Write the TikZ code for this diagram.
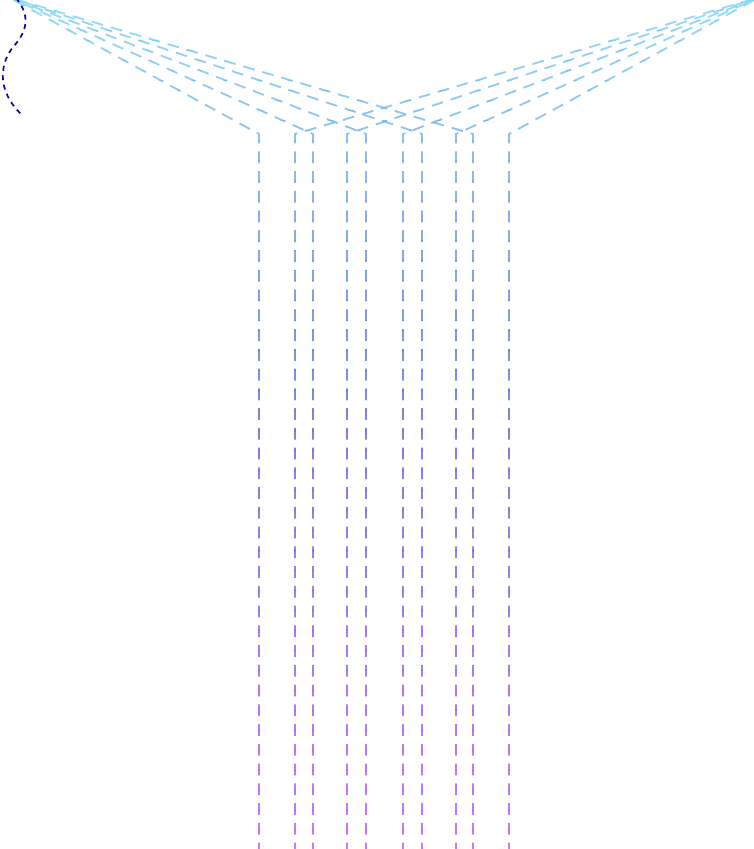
\documentclass[tikz,border=0pt]{standalone}
\definecolor{ctop}{RGB}{124,212,246}
\definecolor{cmid}{RGB}{94,102,206}
\definecolor{cbot}{RGB}{188,90,243}
\definecolor{wavenavy}{RGB}{10,10,150}
\begin{document}
\begin{tikzpicture}[x=1pt,y=-1pt,
  ray/.style={line width=1.8pt, dash pattern=on 11.7pt off 8.05pt, line cap=butt, line join=miter, opacity=0.8},
  wave/.style={wavenavy, line width=1.7pt, dash pattern=on 5pt off 4.5pt}]
\useasboundingbox (0,0) rectangle (754,849);
\clip (0,0) rectangle (754,849);
\coordinate (SL) at (8,-3);
\coordinate (SR) at (760,-3);
\foreach \n/\x in {L1/259,L2/313,L3/366,L4/422,L5/473,R1/295,R2/347,R3/403,R4/456,R5/509} {
  \coordinate (B\n) at (\x,134);
  \coordinate (E\n) at (\x,874);
}
\foreach \i in {0,...,84} {
  \pgfmathsetmacro\ya{10*\i}
  \pgfmathsetmacro\yb{10*\i+10}
  \pgfmathsetmacro\ym{10*\i+5}
  \pgfmathtruncatemacro\hi{\ym>420 ? 1 : 0}
  \ifnum\hi=0
    \pgfmathtruncatemacro\p{\ym/420*100}
    \colorlet{bandc}{cmid!\p!ctop}
  \else
    \pgfmathtruncatemacro\p{(\ym-420)/429*100}
    \colorlet{bandc}{cbot!\p!cmid}
  \fi
  \begin{scope}
    \clip (0,\ya) rectangle (754,\yb);
    \foreach \n/\s in {L1/SL,L2/SL,L3/SL,L4/SL,L5/SL,R1/SR,R2/SR,R3/SR,R4/SR,R5/SR}
      \draw[ray,draw=bandc] (E\n) -- (B\n) -- (\s);
  \end{scope}
}
\draw[wave] (16,-2) .. controls (30,15) and (28,30) .. (14,46) .. controls (0,62) and (-4,90) .. (21,114);
\end{tikzpicture}
\end{document}
